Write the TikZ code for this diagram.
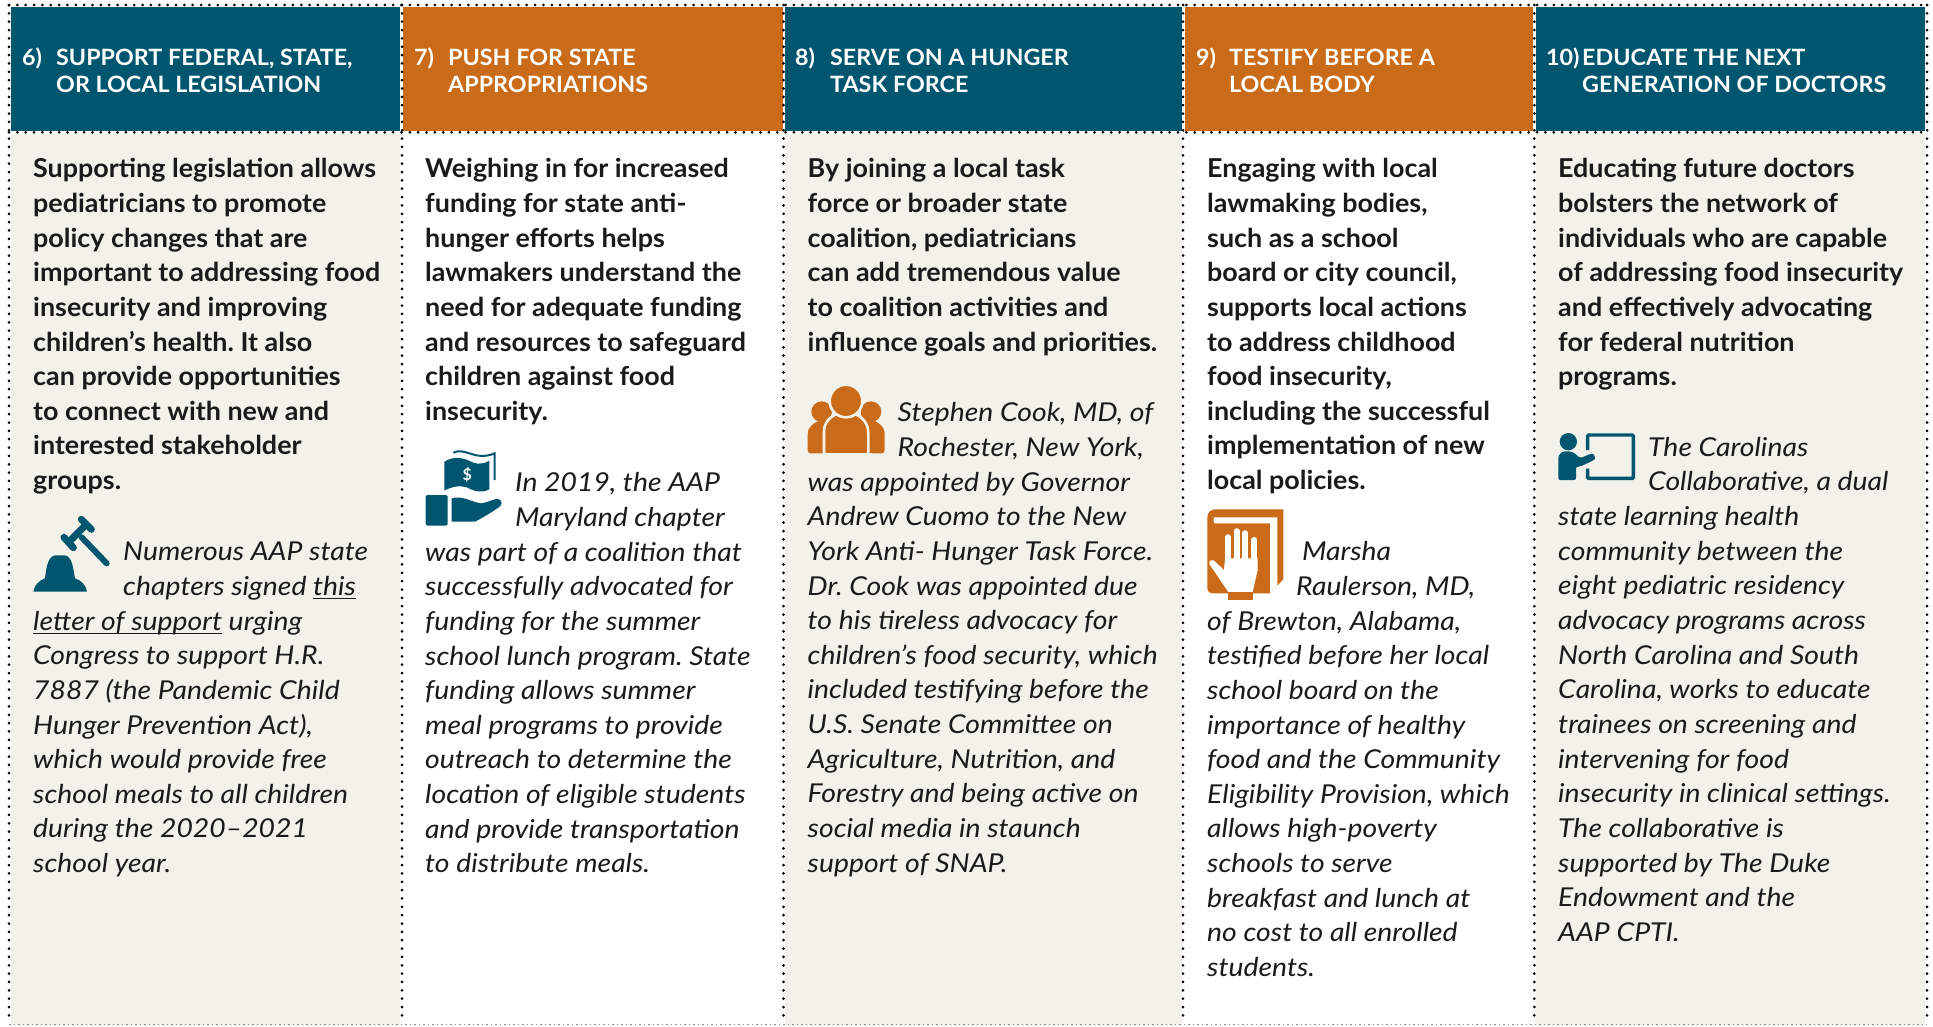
\documentclass[tikz,border=0pt]{standalone}
\usepackage{fontspec}
\setmainfont{Lato}
\newfontfamily\boldbody[FakeStretch=1.034]{Lato Bold}
\newfontfamily\italbody[FakeStretch=1.09]{Lato Italic}
\newfontfamily\headfont[FakeStretch=1.035]{Lato Bold}
\definecolor{teal}{HTML}{00566F}
\definecolor{ochre}{HTML}{C96B18}
\definecolor{paper}{HTML}{F2F2EA}
\definecolor{ink}{HTML}{1A1A1A}
\newcommand\undl[1]{\setbox0\hbox{#1}\rlap{\rule[-4pt]{\wd0}{1.2pt}}#1}
\tikzset{
  bodybold/.style={anchor=north west,inner sep=0pt,align=left,text=ink,font=\fontsize{26}{34.66}\selectfont\boldbody\frenchspacing},
  bodyital/.style={anchor=north west,inner sep=0pt,align=left,text=ink,font=\fontsize{26}{34.66}\selectfont\italbody\frenchspacing},
  headtext/.style={anchor=north west,inner sep=0pt,align=left,text=white,font=\fontsize{22.5}{27}\selectfont\headfont},
  dotline/.style={line width=3pt,line cap=round,dash pattern=on 0pt off 8.35pt,black},
  faintline/.style={line width=.8pt,dash pattern=on 1.5pt off 3pt,black!45}
}
\newcommand\strt{\rule{0pt}{22pt}}
\begin{document}
\begin{tikzpicture}[x=1pt,y=-1pt]
\useasboundingbox (0,0) rectangle (1933,1026);
\fill[white] (0,0) rectangle (1933,1026);
% column backgrounds
\fill[paper] (11,134) rectangle (400,1026);
\fill[paper] (785,134) rectangle (1181.7,1026);
\fill[paper] (1535.7,134) rectangle (1925,1026);
% header bands
\fill[teal] (11,7) rectangle (400,131);
\fill[ochre] (403,7) rectangle (782.5,131);
\fill[teal] (785,7) rectangle (1181.7,131);
\fill[ochre] (1184.5,7) rectangle (1532.7,131);
\fill[teal] (1535.7,7) rectangle (1925,131);
% dotted rules
\coordinate (tl) at (9,5); \coordinate (tr) at (1927,5);
\coordinate (ml) at (9,132.3); \coordinate (mr) at (1927,132.3);
\draw[dotline] (tl) -- (tr);
\draw[dotline] (ml) -- (mr);
\foreach \xx in {9,402,783.5,1183,1534.3,1927}{
  \draw[dotline] (\xx,5) -- (\xx,1022);
}
\draw[faintline] (9,1024.5) -- (1927,1024.5);
% headers
\node[headtext] (hn1) at (22,65-22) {\strt 6)};
\node[headtext] (ht1) at (56,65-22) {\strt SUPPORT FEDERAL, STATE,\\OR LOCAL LEGISLATION};
\node[headtext] (hn2) at (414,65-22) {\strt 7)};
\node[headtext] (ht2) at (448,65-22) {\strt PUSH FOR STATE\\APPROPRIATIONS};
\node[headtext] (hn3) at (795,65-22) {\strt 8)};
\node[headtext] (ht3) at (830,65-22) {\strt SERVE ON A HUNGER\\TASK FORCE};
\node[headtext] (hn4) at (1196,65-22) {\strt 9)};
\node[headtext] (ht4) at (1229,65-22) {\strt TESTIFY BEFORE A\\LOCAL BODY};
\node[headtext] (hn5) at (1546,65-22) {\strt 10)};
\node[headtext] (ht5) at (1582,65-22) {\strt EDUCATE THE NEXT\\GENERATION OF DOCTORS};
% bold paragraphs
\node[bodybold] (b1) at (33,177.5-22) {\strt Supporting legislation allows\\pediatricians to promote\\policy changes that are\\important to addressing food\\insecurity and improving\\children’s health. It also\\can provide opportunities\\to connect with new and\\interested stakeholder\\groups.};
\node[bodybold] (b2) at (425,177.5-22) {\strt Weighing in for increased\\funding for state anti-\\hunger efforts helps\\lawmakers understand the\\need for adequate funding\\and resources to safeguard\\children against food\\insecurity.};
\node[bodybold] (b3) at (807.5,177.5-22) {\strt By joining a local task\\force or broader state\\coalition, pediatricians\\can add tremendous value\\to coalition activities and\\influence goals and priorities.};
\node[bodybold] (b4) at (1207,177.5-22) {\strt Engaging with local\\lawmaking bodies,\\such as a school\\board or city council,\\supports local actions\\to address childhood\\food insecurity,\\including the successful\\implementation of new\\local policies.};
\node[bodybold] (b5) at (1558,177.5-22) {\strt Educating future doctors\\bolsters the network of\\individuals who are capable\\of addressing food insecurity\\and effectively advocating\\for federal nutrition\\programs.};
% italic paragraphs
\node[bodyital] (i1) at (33,560.5-22) {\strt\hspace*{90pt}Numerous AAP state\\\hspace*{90pt}chapters signed \undl{this}\\\undl{letter of support} urging\\Congress to support H.R.\\7887 (the Pandemic Child\\Hunger Prevention Act),\\which would provide free\\school meals to all children\\during the 2020–2021\\school year.};
\node[bodyital] (i2) at (425,491.5-22) {\strt\hspace*{90pt}In 2019, the AAP\\\hspace*{90pt}Maryland chapter\\was part of a coalition that\\successfully advocated for\\funding for the summer\\school lunch program. State\\funding allows summer\\meal programs to provide\\outreach to determine the\\location of eligible students\\and provide transportation\\to distribute meals.};
\node[bodyital] (i3) at (807.5,421.5-22) {\strt\hspace*{90pt}Stephen Cook, MD, of\\\hspace*{90pt}Rochester, New York,\\was appointed by Governor\\Andrew Cuomo to the New\\York Anti- Hunger Task Force.\\Dr. Cook was appointed due\\to his tireless advocacy for\\children’s food security, which\\included testifying before the\\U.S. Senate Committee on\\Agriculture, Nutrition, and\\Forestry and being active on\\social media in staunch\\support of SNAP.};
\node[bodyital] (i4) at (1207,560.5-22) {\strt\hspace*{95pt}Marsha\\\hspace*{89pt}Raulerson, MD,\\of Brewton, Alabama,\\testified before her local\\school board on the\\importance of healthy\\food and the Community\\Eligibility Provision, which\\allows high-poverty\\schools to serve\\breakfast and lunch at\\no cost to all enrolled\\students.};
\node[bodyital] (i5) at (1558,456-22) {\strt\hspace*{90pt}The Carolinas\\\hspace*{90pt}Collaborative, a dual\\state learning health\\community between the\\eight pediatric residency\\advocacy programs across\\North Carolina and South\\Carolina, works to educate\\trainees on screening and\\intervening for food\\insecurity in clinical settings.\\The collaborative is\\supported by The Duke\\Endowment and the\\AAP CPTI.};
% gavel
\begin{scope}[shift={(20,500)},x=.3333pt,y=-.3333pt]
\fill[teal] (40,275) .. controls (42,255) and (60,240) .. (75,235) .. controls (78,210) and (82,170) .. (105,166) -- (135,166) .. controls (158,170) and (160,210) .. (165,235) .. controls (185,242) and (198,255) .. (201,275) -- cycle;
\draw[teal,line width=6pt,line cap=round] (185,112) -- (260,190);
\draw[teal,line width=7pt] (200,72) -- (145,128);
\draw[teal,line width=7pt,line cap=round] (184,58) -- (214,88);
\draw[teal,line width=7pt,line cap=round] (132,112) -- (160,143);
\end{scope}
% money
\begin{scope}[shift={(410,430)},x=.3333pt,y=-.3333pt]
\fill[teal] (103,95) .. controls (135,75) and (165,85) .. (190,98) .. controls (205,104) and (225,100) .. (238,92) -- (238,178) .. controls (215,190) and (195,185) .. (170,172) .. controls (150,165) and (125,170) .. (103,182) -- cycle;
\draw[teal,line width=2pt] (130,68) .. controls (165,50) and (195,95) .. (254,70) -- (254,150);
\node[text=white,inner sep=0pt,font=\fontsize{16}{16}\selectfont\bfseries] (dollar) at (172,135) {\$};
\fill[teal,rounded corners=1.5pt] (47,195) rectangle (113,287);
\fill[teal] (125,205) .. controls (160,195) and (185,218) .. (215,220) .. controls (240,215) and (255,205) .. (265,207) .. controls (278,212) and (278,225) .. (265,233) .. controls (240,250) and (215,265) .. (195,275) -- (125,275) -- cycle;
\end{scope}
% people
\begin{scope}[shift={(790,370)},x=.3333pt,y=-.3333pt]
\fill[ochre] (95,125) circle (31);
\fill[ochre] (243,125) circle (31);
\fill[ochre,rounded corners=3pt] (53,250) -- (53,195) .. controls (55,170) and (80,150) .. (110,150) -- (230,150) .. controls (260,150) and (283,170) .. (284,195) -- (284,250) -- cycle;
\draw[paper,line width=2.6pt,fill=ochre,rounded corners=3pt] (102,255) -- (102,190) .. controls (103,150) and (135,128) .. (168,128) .. controls (200,128) and (232,150) .. (235,190) -- (235,255) -- cycle;
\fill[paper] (95,250) rectangle (245,262);
\draw[paper,line width=2.6pt,fill=ochre] (168,93) circle (49);
\end{scope}
% book
\begin{scope}[shift={(1190,490)},x=.3333pt,y=-.3333pt]
\fill[ochre] (52,82) .. controls (52,68) and (62,58) .. (76,58) -- (280,58) -- (280,268) -- (240,310) -- (66,310) .. controls (58,310) and (52,304) .. (52,296) -- cycle;
\fill[white] (72,82) -- (262,82) -- (262,287) -- (240,310) -- (240,100) -- (72,100) .. controls (70,93) and (70,88) .. (72,82) -- cycle;
\fill[white] (105,205) -- (203,205) -- (203,240) -- (188,306) -- (115,306) -- (58,222) .. controls (55,212) and (65,208) .. (72,212) -- (102,240) -- cycle;
\draw[white,line width=6.2pt,line cap=round] (114,210) -- (114,142);
\draw[white,line width=6.2pt,line cap=round] (140,210) -- (140,124);
\draw[white,line width=6.2pt,line cap=round] (166,210) -- (166,130);
\draw[white,line width=6.2pt,line cap=round] (193,215) -- (193,150);
\fill[ochre] (114,308) rectangle (188,330);
\end{scope}
% teacher
\begin{scope}[shift={(1530,410)},x=.3333pt,y=-.3333pt]
\draw[teal,line width=3.4pt,rounded corners=1pt] (173,120) -- (173,75) -- (310,75) -- (310,205) -- (173,205) -- (173,176);
\fill[teal] (115,95) circle (26);
\fill[teal,rounded corners=2pt] (85,210) -- (85,150) .. controls (85,133) and (97,124) .. (112,124) .. controls (130,125) and (140,135) .. (150,145) -- (180,132) .. controls (192,130) and (198,146) .. (188,152) -- (150,170) -- (138,170) -- (138,210) -- cycle;
\end{scope}
\end{tikzpicture}
\end{document}
